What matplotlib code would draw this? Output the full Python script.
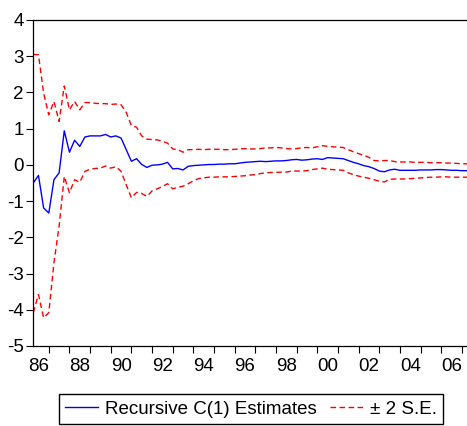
import numpy as np
import matplotlib
matplotlib.use("Agg")
import matplotlib.pyplot as plt

plt.rcParams['font.family'] = ['Liberation Sans', 'DejaVu Sans']
plt.rcParams['axes.unicode_minus'] = False

# quarterly recursive estimates, 1986Q2 onwards
start = 1986.25
estimate = [
    -0.50, -0.29, -1.19, -1.33, -0.41, -0.22, 0.94, 0.35, 0.68, 0.51,
    0.77, 0.80, 0.80, 0.80, 0.84, 0.77, 0.80, 0.74, 0.42, 0.10,
    0.17, 0.01, -0.07, -0.01, 0.00, 0.02, 0.07, -0.11, -0.10, -0.14,
    -0.04, -0.02, -0.01, 0.00, 0.01, 0.01, 0.02, 0.02, 0.03, 0.03,
    0.05, 0.07, 0.08, 0.09, 0.10, 0.09, 0.10, 0.11, 0.11, 0.12,
    0.14, 0.15, 0.13, 0.14, 0.16, 0.17, 0.15, 0.20, 0.19, 0.18,
    0.17, 0.12, 0.07, 0.03, -0.02, -0.05, -0.10, -0.17, -0.19, -0.14,
    -0.12, -0.15, -0.15, -0.15, -0.15, -0.14, -0.14, -0.14, -0.13, -0.13,
    -0.14, -0.15, -0.15, -0.16, -0.16,
]
upper = [
    3.05, 3.04, 1.98, 1.38, 1.75, 1.20, 2.18, 1.52, 1.75, 1.52,
    1.72, 1.72, 1.70, 1.69, 1.69, 1.67, 1.68, 1.66, 1.45, 1.08,
    1.04, 0.80, 0.71, 0.70, 0.69, 0.65, 0.60, 0.44, 0.42, 0.35,
    0.42, 0.42, 0.43, 0.42, 0.43, 0.43, 0.43, 0.42, 0.42, 0.43,
    0.44, 0.45, 0.44, 0.44, 0.45, 0.47, 0.47, 0.48, 0.47, 0.45,
    0.44, 0.45, 0.47, 0.48, 0.47, 0.50, 0.53, 0.51, 0.50, 0.49,
    0.48, 0.42, 0.36, 0.31, 0.26, 0.21, 0.12, 0.11, 0.12, 0.12,
    0.09, 0.08, 0.08, 0.08, 0.07, 0.07, 0.07, 0.06, 0.06, 0.06,
    0.05, 0.05, 0.04, 0.03, 0.03,
]
lower = [
    -4.08, -3.58, -4.22, -4.08, -2.70, -1.69, -0.32, -0.77, -0.41, -0.48,
    -0.18, -0.12, -0.10, -0.09, -0.03, -0.09, -0.05, -0.18, -0.55, -0.91,
    -0.76, -0.79, -0.87, -0.72, -0.66, -0.60, -0.52, -0.66, -0.62, -0.59,
    -0.52, -0.44, -0.38, -0.36, -0.34, -0.34, -0.33, -0.33, -0.33, -0.32,
    -0.31, -0.30, -0.28, -0.27, -0.24, -0.22, -0.21, -0.21, -0.20, -0.20,
    -0.17, -0.17, -0.17, -0.16, -0.13, -0.11, -0.09, -0.12, -0.13, -0.14,
    -0.15, -0.22, -0.27, -0.31, -0.34, -0.37, -0.41, -0.45, -0.47, -0.40,
    -0.39, -0.39, -0.39, -0.38, -0.37, -0.36, -0.35, -0.34, -0.34, -0.33,
    -0.33, -0.34, -0.34, -0.34, -0.34,
]
year_labels = ["86", "88", "90", "92", "94", "96", "98", "00", "02", "04", "06"]

x = start + 0.25 * np.arange(len(estimate))
fs = 13.5

fig = plt.figure(figsize=(4.67, 4.26), dpi=100)
ax = fig.add_axes([0.0713, 0.1878, 0.9287, 0.7653])

ax.plot(x, estimate, color="#0000ff", lw=1.0, label="Recursive C(1) Estimates")
ax.plot(x, upper, color="#ff0000", lw=1.0, ls=(0, (4, 2.5)), label="± 2 S.E.")
ax.plot(x, lower, color="#ff0000", lw=1.0, ls=(0, (4, 2.5)))

ax.set_xlim(start, x[-1])
ax.set_ylim(-5, 4)
ax.set_yticks(range(-5, 5))

# tick marks at year boundaries, labels centred on every other year
ax.set_xticks(np.arange(1987, 2008))
ax.set_xticklabels([])
ax.set_xticks(np.arange(1986.5, 2007, 2), minor=True)
ax.set_xticklabels(year_labels, minor=True)
ax.tick_params(axis="x", which="major", direction="out", length=5, width=0.8)
ax.tick_params(axis="x", which="minor", length=0, pad=9, labelsize=fs)
ax.tick_params(axis="y", direction="out", length=5, width=0.8, pad=2, labelsize=fs)

ax.spines["right"].set_visible(False)
for s in ["left", "bottom", "top"]:
    ax.spines[s].set_linewidth(0.9)

fig.legend(loc="center", bbox_to_anchor=(0.5375, 0.040), ncol=2, fontsize=fs,
           frameon=True, fancybox=False, edgecolor="black", framealpha=1,
           handlelength=1.76, columnspacing=0.7, borderpad=0.35,
           handletextpad=0.37, borderaxespad=0)

fig.savefig("out.png", dpi=100)
